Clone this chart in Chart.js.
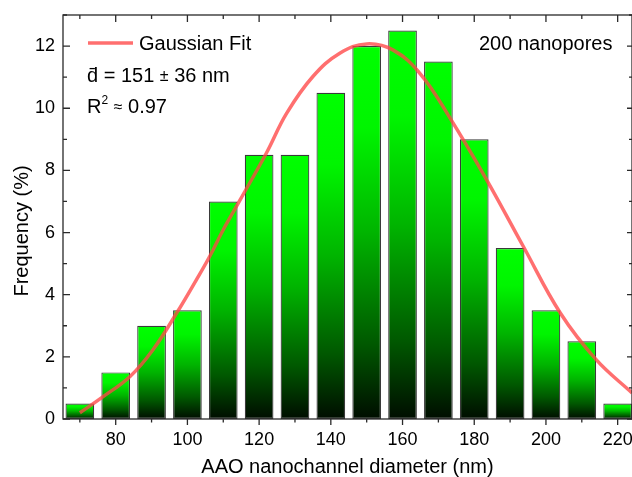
<!DOCTYPE html>
<html>
<head>
<meta charset="utf-8">
<script src="https://cdn.jsdelivr.net/npm/chart.js@4/dist/chart.umd.min.js"></script>
<style>
  html, body { margin: 0; padding: 0; background: #fff; }
  canvas { display: block; }
</style>
</head>
<body>
<canvas id="chart-histogram" width="632" height="477"></canvas>
<script>
// histogram of nanochannel diameters (bin centres, nm) and frequency (%)
const diameters = [70, 80, 90, 100, 110, 120, 130, 140, 150, 160, 170, 180, 190, 200, 210, 220]
const frequencies = [0.5, 1.5, 3, 3.5, 7, 8.5, 8.5, 10.5, 12, 12.5, 11.5, 9, 5.5, 3.5, 2.5, 0.5]

// gaussian fit curve
const fitDiameters = [70, 76, 84, 90.4, 97, 102.5, 106.2, 110, 114.7, 122, 127.7, 135, 142.5, 150, 157.4, 165, 173, 183.5, 193.7, 204, 214, 224]
const fitValues = [0.2, 0.68, 1.37, 2.23, 3.41, 4.48, 5.23, 6.09, 7.05, 8.55, 9.84, 11.02, 11.77, 12.07, 11.87, 11.1, 9.73, 7.69, 5.55, 3.41, 1.91, 0.84]

const xTicks = [80, 100, 120, 140, 160, 180, 200, 220]
const yTicks = [0, 2, 4, 6, 8, 10, 12]

const FONT = '"Liberation Sans", Arial, sans-serif'
const FIT_COLOR = 'rgba(255, 70, 70, 0.78)'

function barGradient(context) {
  const chart = context.chart
  if (!chart.chartArea || context.type !== 'data') return '#00ff00'
  const yScale = chart.scales.y
  const top = yScale.getPixelForValue(context.parsed.y)
  const bottom = yScale.getPixelForValue(0)
  const g = chart.ctx.createLinearGradient(0, top, 0, bottom)
  g.addColorStop(0, '#00ff00')
  g.addColorStop(0.22, '#00f500')
  g.addColorStop(0.5, '#00b400')
  g.addColorStop(0.8, '#005800')
  g.addColorStop(1, '#000d00')
  return g
}

// draws a run of text pieces left to right: [text, size, dy]
function fillRun(ctx, pieces, x, y) {
  pieces.forEach(([text, size, dy]) => {
    ctx.font = size + 'px ' + FONT
    ctx.fillText(text, x, y + dy)
    x += ctx.measureText(text).width
  })
}

const frameAndText = {
  id: 'frameAndText',
  afterDatasetsDraw(chart) {
    const { ctx, chartArea: a, scales: { x, y } } = chart
    ctx.save()
    ctx.strokeStyle = '#2a2a2a'
    ctx.lineWidth = 1.3
    ctx.strokeRect(a.left, a.top, a.right - a.left, a.bottom - a.top)

    ctx.beginPath()
    xTicks.forEach(v => {
      [v, v - 10].forEach((t, i) => {
        const px = x.getPixelForValue(t)
        ctx.moveTo(px, a.bottom)
        ctx.lineTo(px, a.bottom + (i === 0 ? 6 : 3.5))
        ctx.moveTo(px, a.top)
        ctx.lineTo(px, a.top + (i === 0 ? 7 : 4))
      })
    })
    yTicks.forEach(v => {
      [v, v + 1].forEach((t, i) => {
        const py = y.getPixelForValue(t)
        ctx.moveTo(a.left, py)
        ctx.lineTo(a.left + (i === 0 ? 7 : 4), py)
        ctx.moveTo(a.right, py)
        ctx.lineTo(a.right - (i === 0 ? 5 : 3), py)
      })
    })
    ctx.stroke()

    // legend entry
    ctx.strokeStyle = FIT_COLOR
    ctx.lineWidth = 3.5
    ctx.beginPath()
    ctx.moveTo(88, 43)
    ctx.lineTo(133, 43)
    ctx.stroke()

    ctx.fillStyle = '#000'
    ctx.font = '20px ' + FONT
    ctx.textBaseline = 'alphabetic'
    ctx.textAlign = 'left'
    ctx.fillText('Gaussian Fit', 139, 50)
    ctx.fillText('200 nanopores', 479, 50)
    fillRun(ctx, [['d\u0304 = 151 ', 20, 0], ['\u00b1', 16, -1], [' 36 nm', 20, 0]], 87, 82)
    fillRun(ctx, [['R', 20, 0], ['2', 12, -9], [' ', 20, 0], ['\u2248', 16, -1], [' 0.97', 20, 0]], 87, 113)

    // y axis title
    ctx.font = '20px ' + FONT
    ctx.translate(22, 231)
    ctx.rotate(-Math.PI / 2)
    ctx.textAlign = 'center'
    ctx.textBaseline = 'middle'
    ctx.fillText('Frequency (%)', 0, 0)
    ctx.restore()
  }
}

new Chart(document.getElementById('chart-histogram'), {
  type: 'bar',
  data: {
    datasets: [
      {
        type: 'line',
        label: 'Gaussian Fit',
        data: fitDiameters.map((d, i) => ({ x: d, y: fitValues[i] })),
        borderColor: FIT_COLOR,
        borderWidth: 3.5,
        pointRadius: 0,
        tension: 0.4,
        fill: false,
        order: 0,
      },
      {
        label: 'Frequency',
        data: diameters.map((d, i) => ({ x: d, y: frequencies[i] })),
        backgroundColor: barGradient,
        borderColor: '#3a3a3a',
        borderWidth: 1.2,
        borderSkipped: false,
        barPercentage: 1,
        categoryPercentage: 0.8,
        order: 1,
      },
    ],
  },
  options: {
    responsive: false,
    animation: false,
    devicePixelRatio: 1,
    layout: { padding: { top: 15, right: 0, left: 0, bottom: 0 } },
    plugins: { legend: { display: false }, tooltip: { enabled: false } },
    scales: {
      x: {
        type: 'linear',
        offset: false,
        min: 65.3,
        max: 224,
        afterBuildTicks: s => { s.ticks = xTicks.map(v => ({ value: v })) },
        afterFit: s => {
          s.height = 58
          s.paddingLeft = 0
          s.paddingRight = 0
        },
        grid: { display: false, drawTicks: false, offset: false },
        border: { display: false },
        ticks: { color: '#000', padding: 10, font: { family: FONT, size: 18 } },
        title: {
          display: true,
          text: 'AAO nanochannel diameter (nm)',
          color: '#000',
          padding: 0,
          font: { family: FONT, size: 20, lineHeight: 1 },
        },
      },
      y: {
        min: 0,
        max: 13,
        afterBuildTicks: s => { s.ticks = yTicks.map(v => ({ value: v })) },
        afterFit: s => {
          s.width = 63
          s.paddingTop = 0
          s.paddingBottom = 0
        },
        grid: { display: false, drawTicks: false },
        border: { display: false },
        ticks: { color: '#000', padding: 8, font: { family: FONT, size: 18 } },
      },
    },
  },
  plugins: [frameAndText],
})
</script>
</body>
</html>
